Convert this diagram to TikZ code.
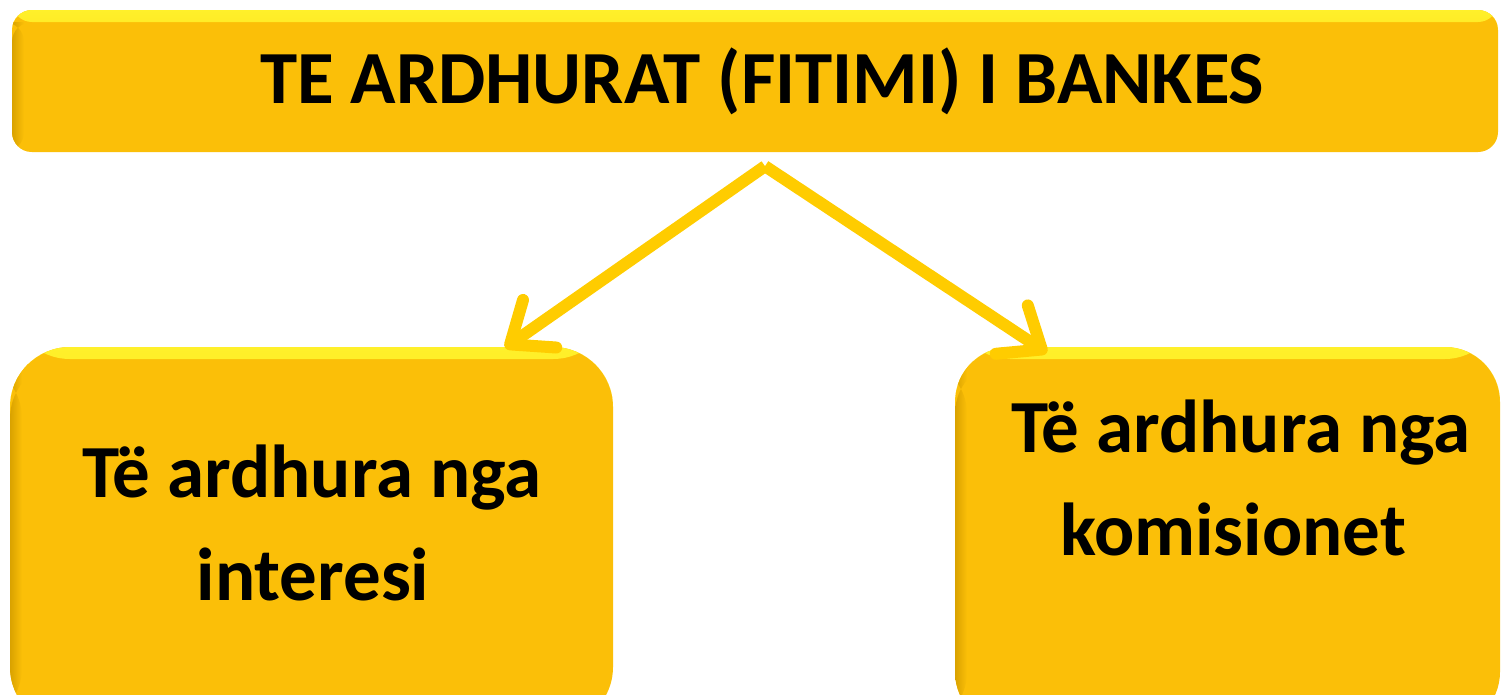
\documentclass[tikz,border=0pt]{standalone}
\usepackage{fontspec}
\setmainfont{Carlito}
\usetikzlibrary{arrows.meta}
\definecolor{mainc}{HTML}{FBBF08}
\definecolor{hlc}{HTML}{FFF02A}
\definecolor{dkc}{HTML}{D9A200}
\definecolor{arrc}{HTML}{FFCC00}
\tikzset{
  ybox/.style={draw=none, fill=mainc, rounded corners=#1, inner sep=0pt,
    path picture={
      \shade[top color=hlc, bottom color=mainc] (path picture bounding box.north west) rectangle ([yshift=-12pt]path picture bounding box.north east);
      \shade[left color=dkc, right color=mainc] ([yshift=-12pt]path picture bounding box.north west) rectangle ([xshift=12pt]path picture bounding box.south west);
    }},
  lbl/.style={font=\bfseries\fontsize{75}{90}\selectfont, anchor=base, inner sep=0pt, text=black},
  conn/.style={draw=arrc, line width=12pt, -{Straight Barb[length=36pt, width=58pt, round]}}
}
\begin{document}
\begin{tikzpicture}[x=1pt,y=-1pt]
\useasboundingbox (0,0) rectangle (1501,694);
\begin{scope}
\clip (0,0) rectangle (1501,694);
\node[ybox=20pt, minimum width=1486pt, minimum height=142pt] (top) at (755,81) {};
\node[ybox=60pt, minimum width=603pt, minimum height=380pt] (lbox) at (311.5,537) {};
\node[ybox=55pt, minimum width=545pt, minimum height=380pt] (rbox) at (1227.5,537) {};
\end{scope}
\node[lbl] (title) at (762,103) {TE ARDHURAT (FITIMI) I BANKES};
\node[lbl] (l1) at (312,497) {Të ardhura nga};
\node[lbl] (l2) at (313,600) {interesi};
\node[lbl] (r1) at (1241,452) {Të ardhura nga};
\node[lbl] (r2) at (1233,555) {komisionet};
\coordinate (apex) at ([xshift=10pt,yshift=-14pt]top.south);
\coordinate (ltip) at ([xshift=-108pt,yshift=-1pt]lbox.north east);
\coordinate (rtip) at ([xshift=92pt,yshift=-6pt]rbox.north west);
\draw[conn] (apex) -- (ltip);
\draw[conn] (apex) -- (rtip);
\end{tikzpicture}
\end{document}
